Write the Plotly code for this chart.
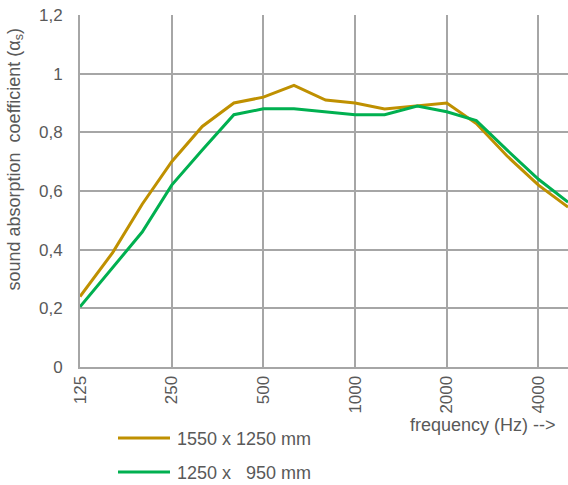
import plotly.graph_objects as go
import math

freq = [125, 160, 200, 250, 315, 400, 500, 630, 800, 1000, 1250, 1600, 2000, 2500, 3150, 4000, 5000]
alpha_1550 = [0.24, 0.39, 0.555, 0.70, 0.82, 0.90, 0.92, 0.96, 0.91, 0.90, 0.88, 0.89, 0.90, 0.83, 0.72, 0.62, 0.545]
alpha_1250 = [0.205, 0.34, 0.46, 0.62, 0.74, 0.86, 0.88, 0.88, 0.87, 0.86, 0.86, 0.89, 0.87, 0.84, 0.74, 0.64, 0.562]
names = ["1550 x 1250 mm", "1250 x\u00a0\u00a0 950 mm"]
colors = ["#BF9000", "#00B050"]
xticks = [125, 250, 500, 1000, 2000, 4000]
yticks = [0, 0.2, 0.4, 0.6, 0.8, 1, 1.2]

W, H = 568, 485
ml, mr, mt, mb = 80, 0, 15, 118
pw, ph = W - ml - mr, H - mt - mb

fig = go.Figure()
for ys, nm, c in zip([alpha_1550, alpha_1250], names, colors):
    fig.add_trace(go.Scatter(x=freq, y=ys, mode="lines", name=nm,
                             line=dict(color=c, width=3), showlegend=False))

grid = "#A6A6A6"
txt = "#595959"
fig.update_layout(
    width=W, height=H,
    margin=dict(l=ml, r=mr, t=mt, b=mb),
    paper_bgcolor="white", plot_bgcolor="white",
    separators=",.",
    font=dict(family="Liberation Sans, Arial, sans-serif", color=txt, size=17),
    xaxis=dict(type="log", range=[math.log10(125), math.log10(5000)],
               tickvals=xticks, ticktext=[str(v) for v in xticks],
               tickangle=-90, showgrid=True, gridcolor=grid, gridwidth=2,
               showline=True, linecolor=grid, linewidth=2, zeroline=False,
               ticks="", tickfont=dict(size=17, color=txt)),
    yaxis=dict(range=[0, 1.2], tickvals=yticks,
               ticktext=["0", "0,2", "0,4", "0,6", "0,8", "1", "1,2"],
               showgrid=True, gridcolor=grid, gridwidth=2,
               showline=True, linecolor=grid, linewidth=2, zeroline=False,
               ticks="", ticklen=0, ticklabelstandoff=12,
               tickfont=dict(size=17, color=txt)),
)

def px(x):
    return (x - ml) / pw

def py(y):
    return (H - mb - y) / ph

# y axis title
fig.add_annotation(text="sound absorption\u00a0\u00a0coefficient (α<sub>s</sub>)",
                   xref="paper", yref="paper", x=px(1), y=py(159),
                   textangle=-90, showarrow=False, font=dict(size=18, color=txt))
# x axis title
fig.add_annotation(text="frequency (Hz) -->", xref="paper", yref="paper",
                   x=px(558), y=py(425), xanchor="right", yanchor="middle",
                   showarrow=False, font=dict(size=18, color=txt))

# legend
for i, (nm, c) in enumerate(zip(names, colors)):
    yy = 438 + i * 34
    fig.add_shape(type="line", xref="paper", yref="paper",
                  x0=px(118), x1=px(170), y0=py(yy), y1=py(yy),
                  line=dict(color=c, width=3))
    fig.add_annotation(text=nm, xref="paper", yref="paper", x=px(175), y=py(yy + 1),
                       xanchor="left", yanchor="middle", showarrow=False,
                       font=dict(size=18, color=txt))

fig.write_html("out.html", config={"displayModeBar": False},
               post_script="document.body.style.margin='0';document.body.style.overflow='hidden';")
